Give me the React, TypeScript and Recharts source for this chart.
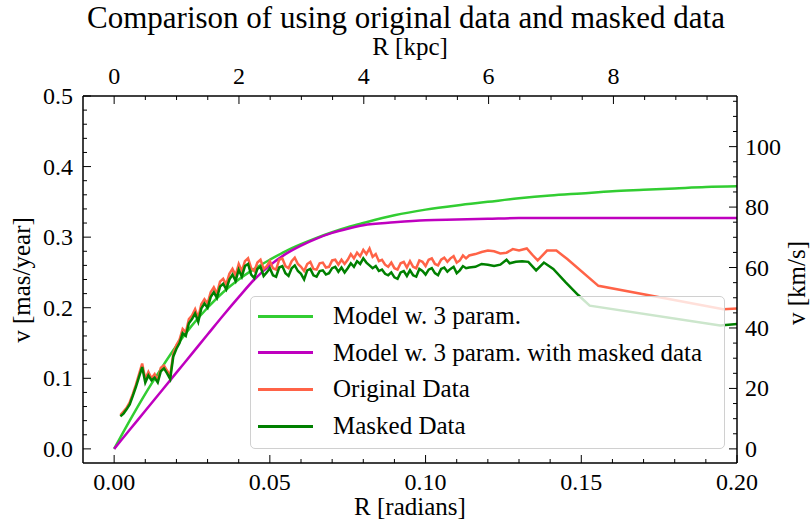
import React from 'react';
import { LineChart, Line, XAxis, YAxis } from 'recharts';

// radial sampling grid (radians) shared by both observed curves
const gridR = [
  0.002, 0.003, 0.004, 0.005, 0.006, 0.007, 0.008, 0.009, 0.010, 0.011,
  0.012, 0.013, 0.014, 0.015, 0.016, 0.017, 0.018, 0.019, 0.020, 0.021,
  0.022, 0.023, 0.024, 0.025, 0.026, 0.027, 0.028, 0.029, 0.030, 0.031,
  0.032, 0.033, 0.034, 0.035, 0.036, 0.037, 0.038, 0.039, 0.040, 0.041,
  0.042, 0.043, 0.044, 0.045, 0.046, 0.047, 0.048, 0.049, 0.050, 0.051,
  0.052, 0.053, 0.054, 0.055, 0.056, 0.057, 0.058, 0.059, 0.060, 0.061,
  0.062, 0.063, 0.064, 0.065, 0.066, 0.067, 0.068, 0.069, 0.070, 0.071,
  0.072, 0.073, 0.074, 0.075, 0.076, 0.077, 0.078, 0.079, 0.080, 0.081,
  0.082, 0.083, 0.084, 0.085, 0.086, 0.087, 0.088, 0.089, 0.090, 0.091,
  0.092, 0.093, 0.094, 0.095, 0.096, 0.097, 0.098, 0.099, 0.100, 0.101,
  0.102, 0.103, 0.104, 0.105, 0.106, 0.107, 0.108, 0.109, 0.110, 0.111,
  0.112, 0.113, 0.114,
];

const originalGridV = [
  0.048, 0.053, 0.058, 0.066, 0.078, 0.091, 0.106, 0.121, 0.099, 0.109,
  0.100, 0.106, 0.097, 0.115, 0.118, 0.111, 0.104, 0.135, 0.147, 0.155,
  0.170, 0.165, 0.184, 0.189, 0.198, 0.186, 0.205, 0.212, 0.206, 0.222,
  0.229, 0.220, 0.237, 0.241, 0.233, 0.248, 0.255, 0.246, 0.262, 0.252,
  0.266, 0.270, 0.256, 0.252, 0.264, 0.268, 0.255, 0.259, 0.266, 0.256,
  0.254, 0.268, 0.270, 0.259, 0.256, 0.266, 0.271, 0.262, 0.258, 0.252,
  0.262, 0.265, 0.255, 0.254, 0.263, 0.264, 0.257, 0.258, 0.267, 0.268,
  0.261, 0.268, 0.262, 0.268, 0.276, 0.270, 0.278, 0.273, 0.282, 0.276,
  0.284, 0.272, 0.276, 0.266, 0.268, 0.261, 0.258, 0.264, 0.256, 0.254,
  0.263, 0.265, 0.257, 0.266, 0.258, 0.256, 0.267, 0.265, 0.259, 0.268,
  0.270, 0.262, 0.260, 0.268, 0.271, 0.265, 0.270, 0.273, 0.264, 0.267,
  0.274, 0.270, 0.274,
];

const maskedGridV = [
  0.046, 0.050, 0.056, 0.063, 0.075, 0.088, 0.102, 0.116, 0.094, 0.104,
  0.097, 0.101, 0.094, 0.110, 0.114, 0.107, 0.099, 0.131, 0.142, 0.150,
  0.164, 0.160, 0.178, 0.184, 0.192, 0.180, 0.199, 0.206, 0.200, 0.215,
  0.222, 0.214, 0.230, 0.234, 0.226, 0.240, 0.247, 0.238, 0.254, 0.244,
  0.259, 0.262, 0.247, 0.242, 0.255, 0.258, 0.245, 0.250, 0.256, 0.246,
  0.244, 0.257, 0.259, 0.249, 0.245, 0.256, 0.260, 0.252, 0.248, 0.240,
  0.253, 0.255, 0.246, 0.244, 0.252, 0.253, 0.247, 0.249, 0.256, 0.258,
  0.251, 0.257, 0.250, 0.256, 0.263, 0.258, 0.266, 0.262, 0.270, 0.264,
  0.260, 0.256, 0.259, 0.252, 0.254, 0.248, 0.246, 0.250, 0.243, 0.241,
  0.250, 0.252, 0.245, 0.253, 0.246, 0.244, 0.255, 0.252, 0.247, 0.254,
  0.256, 0.249, 0.246, 0.255, 0.257, 0.251, 0.255, 0.258, 0.249, 0.253,
  0.259, 0.256, 0.257,
];

// sparser outer part of each observed curve
const originalTailR = [0.116, 0.118, 0.120, 0.122, 0.124, 0.126, 0.128, 0.130, 0.1325, 0.1345, 0.136, 0.139, 0.142, 0.1455, 0.1555, 0.1956, 0.200];
const originalTailV = [0.276, 0.279, 0.281, 0.280, 0.277, 0.278, 0.283, 0.281, 0.284, 0.274, 0.267, 0.281, 0.281, 0.269, 0.231, 0.198, 0.199];
const maskedTailR = [0.116, 0.118, 0.120, 0.122, 0.124, 0.126, 0.127, 0.129, 0.131, 0.133, 0.1355, 0.138, 0.141, 0.145, 0.149, 0.1527, 0.1946, 0.200];
const maskedTailV = [0.258, 0.262, 0.261, 0.259, 0.261, 0.268, 0.263, 0.265, 0.266, 0.265, 0.253, 0.264, 0.255, 0.236, 0.218, 0.203, 0.175, 0.177];

// fitted rotation curves
const modelR = [0, 0.005, 0.01, 0.015, 0.02, 0.025, 0.03, 0.035, 0.04, 0.045, 0.05, 0.055, 0.06, 0.065, 0.07, 0.075, 0.08, 0.09, 0.10, 0.11, 0.12, 0.13, 0.14, 0.15, 0.16, 0.17, 0.18, 0.19, 0.20];
const fullModelV = [0, 0.040, 0.078, 0.113, 0.146, 0.175, 0.200, 0.222, 0.240, 0.255, 0.268, 0.280, 0.290, 0.299, 0.307, 0.314, 0.320, 0.331, 0.339, 0.345, 0.350, 0.355, 0.359, 0.362, 0.365, 0.367, 0.369, 0.371, 0.372];
const maskedModelV = [0, 0.027, 0.054, 0.081, 0.108, 0.135, 0.162, 0.189, 0.215, 0.240, 0.260, 0.276, 0.288, 0.298, 0.306, 0.312, 0.317, 0.321, 0.324, 0.325, 0.326, 0.327, 0.327, 0.327, 0.327, 0.327, 0.327, 0.327, 0.327];

// axis ticks
const radTicks = [0, 0.01, 0.02, 0.03, 0.04, 0.05, 0.06, 0.07, 0.08, 0.09, 0.1, 0.11, 0.12, 0.13, 0.14, 0.15, 0.16, 0.17, 0.18, 0.19, 0.2];
const masTicks = [0, 0.02, 0.04, 0.06, 0.08, 0.1, 0.12, 0.14, 0.16, 0.18, 0.2, 0.22, 0.24, 0.26, 0.28, 0.3, 0.32, 0.34, 0.36, 0.38, 0.4, 0.42, 0.44, 0.46, 0.48, 0.5];
const kpcTicks = [0, 0.5, 1, 1.5, 2, 2.5, 3, 3.5, 4, 4.5, 5, 5.5, 6, 6.5, 7, 7.5, 8, 8.5, 9, 9.5];
const kmsTicks = [0, 5, 10, 15, 20, 25, 30, 35, 40, 45, 50, 55, 60, 65, 70, 75, 80, 85, 90, 95, 100, 105, 110, 115];

const KPC_PER_RAD = 49.9;
const KMS_PER_MAS = 233.5;
const radDomain = [-0.01, 0.2];
const masDomain = [-0.02, 0.5];

const zip = (r: number[], v: number[]) => r.map((x, i) => ({ r: x, v: v[i] }));
const originalData = [...zip(gridR, originalGridV), ...zip(originalTailR, originalTailV)];
const maskedData = [...zip(gridR, maskedGridV), ...zip(maskedTailR, maskedTailV)];
const fullModel = zip(modelR, fullModelV);
const maskedModel = zip(modelR, maskedModelV);

const FONT = '"Liberation Serif", "Times New Roman", serif';
const isMajor = (v: number, step: number) => Math.abs(v / step - Math.round(v / step)) < 1e-6;

const BottomTick = ({ x, y, payload }: any) => {
  const major = isMajor(payload.value, 0.05);
  return (
    <g>
      <line x1={x} x2={x} y1={y} y2={y - (major ? 8 : 4)} stroke="#000" strokeWidth={1} />
      {major && (
        <text x={x} y={y + 27} textAnchor="middle" fontSize={24} fontFamily={FONT} fill="#000">
          {payload.value.toFixed(2)}
        </text>
      )}
    </g>
  );
};

const TopTick = ({ x, y, payload }: any) => {
  const major = isMajor(payload.value, 2);
  return (
    <g>
      <line x1={x} x2={x} y1={y} y2={y + (major ? 8 : 4)} stroke="#000" strokeWidth={1} />
      {major && (
        <text x={x} y={y - 12} textAnchor="middle" fontSize={24} fontFamily={FONT} fill="#000">
          {payload.value}
        </text>
      )}
    </g>
  );
};

const LeftTick = ({ x, y, payload }: any) => {
  const major = isMajor(payload.value, 0.1);
  return (
    <g>
      <line x1={x} x2={x + (major ? 8 : 4)} y1={y} y2={y} stroke="#000" strokeWidth={1} />
      {major && (
        <text x={x - 10} y={y + 8} textAnchor="end" fontSize={24} fontFamily={FONT} fill="#000">
          {payload.value.toFixed(1)}
        </text>
      )}
    </g>
  );
};

const RightTick = ({ x, y, payload }: any) => {
  const major = isMajor(payload.value, 20);
  return (
    <g>
      <line x1={x} x2={x - (major ? 8 : 4)} y1={y} y2={y} stroke="#000" strokeWidth={1} />
      {major && (
        <text x={x + 8} y={y + 8} textAnchor="start" fontSize={24} fontFamily={FONT} fill="#000">
          {payload.value}
        </text>
      )}
    </g>
  );
};

const legendItems = [
  { label: 'Model w. 3 param.', color: '#32CD32' },
  { label: 'Model w. 3 param. with masked data', color: '#BF00BF' },
  { label: 'Original Data', color: '#FF6347' },
  { label: 'Masked Data', color: '#008000' },
];

const axisLine = { stroke: '#000', strokeWidth: 1.5 };

export default function App() {
  return (
    <div style={{ position: 'absolute', left: 0, top: 0, width: 812, height: 525, background: '#fff', fontFamily: FONT }}>
      <LineChart width={812} height={525} margin={{ top: 0, right: 0, bottom: 0, left: 0 }}>
        <XAxis
          dataKey="r"
          type="number"
          domain={radDomain}
          allowDataOverflow
          ticks={radTicks}
          interval={0}
          height={62}
          tickSize={0}
          tickMargin={0}
          tickLine={false}
          axisLine={axisLine}
          tick={<BottomTick />}
        />
        {/* secondary distance scale, same extent as the radian axis */}
        <XAxis
          xAxisId="kpc"
          dataKey="r"
          orientation="top"
          type="number"
          domain={[radDomain[0] * KPC_PER_RAD, radDomain[1] * KPC_PER_RAD]}
          allowDataOverflow
          ticks={kpcTicks}
          interval={0}
          height={96}
          tickSize={0}
          tickMargin={0}
          tickLine={false}
          axisLine={axisLine}
          tick={<TopTick />}
        />
        <YAxis
          type="number"
          domain={masDomain}
          allowDataOverflow
          ticks={masTicks}
          interval={0}
          width={83}
          tickSize={0}
          tickMargin={0}
          tickLine={false}
          axisLine={axisLine}
          tick={<LeftTick />}
        />
        <YAxis
          yAxisId="kms"
          orientation="right"
          type="number"
          domain={[masDomain[0] * KMS_PER_MAS, masDomain[1] * KMS_PER_MAS]}
          allowDataOverflow
          ticks={kmsTicks}
          interval={0}
          width={75}
          tickSize={0}
          tickMargin={0}
          tickLine={false}
          axisLine={axisLine}
          tick={<RightTick />}
        />
        {/* invisible series so the top axis gets laid out */}
        <Line xAxisId="kpc" data={fullModel} dataKey="v" stroke="none" dot={false} isAnimationActive={false} legendType="none" />
        <Line data={fullModel} dataKey="v" type="monotone" stroke="#32CD32" strokeWidth={2.5} dot={false} isAnimationActive={false} />
        <Line data={maskedModel} dataKey="v" type="monotone" stroke="#BF00BF" strokeWidth={2.5} dot={false} isAnimationActive={false} />
        <Line data={originalData} dataKey="v" type="linear" stroke="#FF6347" strokeWidth={2.5} dot={false} isAnimationActive={false} />
        <Line data={maskedData} dataKey="v" type="linear" stroke="#008000" strokeWidth={2.5} dot={false} isAnimationActive={false} />
      </LineChart>

      <div style={{ position: 'absolute', left: 0, width: 812, top: 0, textAlign: 'center', fontSize: 31, lineHeight: 'normal' }}>
        Comparison of using original data and masked data
      </div>
      <div style={{ position: 'absolute', left: 0, width: 820, top: 33, textAlign: 'center', fontSize: 25, lineHeight: '28px' }}>
        R [kpc]
      </div>
      <div style={{ position: 'absolute', left: 0, width: 820, top: 492, textAlign: 'center', fontSize: 25, lineHeight: '30px' }}>
        R [radians]
      </div>
      <div style={{ position: 'absolute', left: 22, top: 280, width: 0, height: 0 }}>
        <div style={{ position: 'absolute', transform: 'translate(-50%, -50%) rotate(-90deg)', whiteSpace: 'nowrap', fontSize: 25 }}>
          v [mas/year]
        </div>
      </div>
      <div style={{ position: 'absolute', left: 797, top: 283, width: 0, height: 0 }}>
        <div style={{ position: 'absolute', transform: 'translate(-50%, -50%) rotate(-90deg)', whiteSpace: 'nowrap', fontSize: 25 }}>
          v [km/s]
        </div>
      </div>

      <div
        style={{
          position: 'absolute',
          left: 250,
          top: 296,
          width: 475,
          height: 153,
          boxSizing: 'border-box',
          background: 'rgba(255,255,255,0.8)',
          border: '1.5px solid #d0d0d0',
          borderRadius: 5,
        }}
      >
        {legendItems.map((item, i) => (
          <div key={item.label} style={{ position: 'absolute', left: 7, top: 19 + i * 36.7 - 15, height: 30, display: 'flex', alignItems: 'center', whiteSpace: 'nowrap' }}>
            <div style={{ width: 55, height: 3, background: item.color }} />
            <span style={{ marginLeft: 20, fontSize: 25 }}>{item.label}</span>
          </div>
        ))}
      </div>
    </div>
  );
}
